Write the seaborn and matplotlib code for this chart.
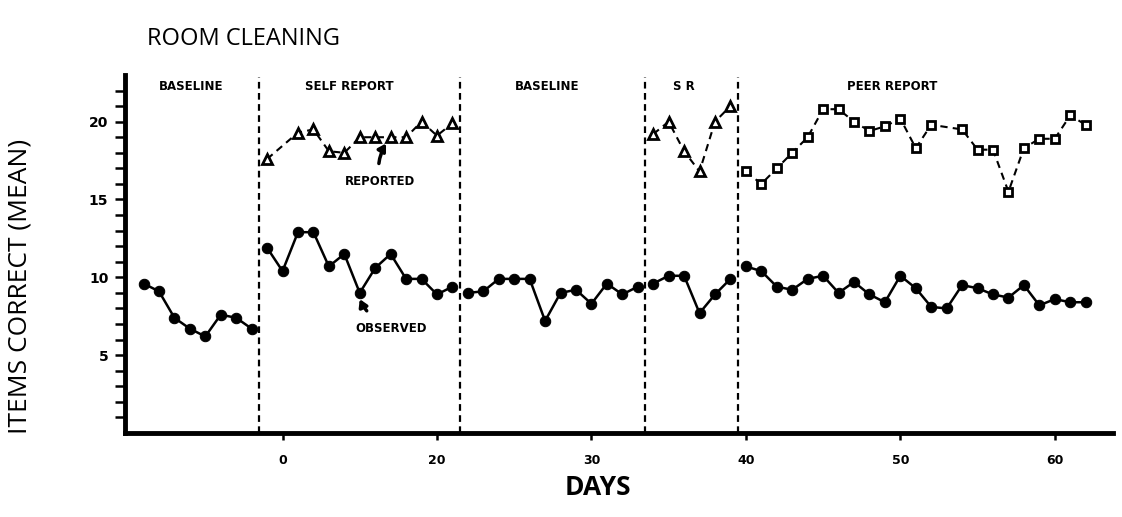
import numpy as np
import pandas as pd
import seaborn as sns
import matplotlib.pyplot as plt

# observed items correct, one list per phase
obs_days = [list(range(1, 9)), list(range(9, 22)), list(range(22, 34)),
            list(range(34, 40)), list(range(40, 63))]
obs_vals = [
    [9.6, 9.1, 7.4, 6.7, 6.2, 7.6, 7.4, 6.7],
    [11.9, 10.4, 12.9, 12.9, 10.7, 11.5, 9.0, 10.6, 11.5, 9.9, 9.9, 8.9, 9.4],
    [9.0, 9.1, 9.9, 9.9, 9.9, 7.2, 9.0, 9.2, 8.3, 9.6, 8.9, 9.4],
    [9.6, 10.1, 10.1, 7.7, 8.9, 9.9],
    [10.7, 10.4, 9.4, 9.2, 9.9, 10.1, 9.0, 9.7, 8.9, 8.4, 10.1, 9.3, 8.1,
     8.0, 9.5, 9.3, 8.9, 8.7, 9.5, 8.2, 8.6, 8.4, 8.4],
]

# self reported (triangles), no mark on day 10
rep_days = [[9, 11, 12, 13, 14, 15, 16, 17, 18, 19, 20, 21],
            [34, 35, 36, 37, 38, 39]]
rep_vals = [[17.6, 19.3, 19.5, 18.1, 18.0, 19.0, 19.0, 19.0, 19.0, 20.0, 19.1, 19.9],
            [19.2, 20.0, 18.1, 16.8, 20.0, 21.0]]

# peer reported (squares), no point on day 53
peer_days = list(range(40, 53)) + list(range(54, 63))
peer_vals = [16.8, 16.0, 17.0, 18.0, 19.0, 20.8, 20.8, 20.0, 19.4, 19.7, 20.2,
             18.3, 19.8, 19.5, 18.2, 18.2, 15.5, 18.3, 18.9, 18.9, 20.4, 19.8]

phase_lines = [8.5, 21.5, 33.5, 39.5]
phase_names = ["BASELINE", "SELF REPORT", "BASELINE", "S R", "PEER REPORT"]
phase_label_x = [4.1, 14.3, 27.1, 36.0, 49.5]

xticks = [10, 20, 30, 40, 50, 60]
xtick_labels = ["0", "20", "30", "40", "50", "60"]
yticks = [5, 10, 15, 20]

obs_df = pd.DataFrame({
    "day": [d for ds in obs_days for d in ds],
    "value": [v for vs in obs_vals for v in vs],
    "phase": [i for i, ds in enumerate(obs_days) for _ in ds],
})
rep_df = pd.DataFrame({
    "day": [d for ds in rep_days for d in ds],
    "value": [v for vs in rep_vals for v in vs],
    "phase": [i for i, ds in enumerate(rep_days) for _ in ds],
})
peer_df = pd.DataFrame({"day": peer_days, "value": peer_vals, "phase": 0})

sns.set_style("white", {"text.color": "black", "axes.labelcolor": "black",
                        "xtick.color": "black", "ytick.color": "black",
                        "xtick.bottom": True, "ytick.left": True})
fig = plt.figure(figsize=(11.22, 5.17), dpi=100)
ax = fig.add_axes([0.1114, 0.1625, 0.881, 0.6925])

sns.lineplot(data=obs_df, x="day", y="value", units="phase", estimator=None,
             color="black", lw=1.8, marker="o", markersize=7.5,
             markerfacecolor="black", markeredgecolor="black", ax=ax)
sns.lineplot(data=rep_df, x="day", y="value", units="phase", estimator=None,
             color="black", lw=1.5, linestyle=(0, (3.5, 2.5)), marker="^", markersize=6.5,
             markerfacecolor="white", markeredgecolor="black", markeredgewidth=2, ax=ax)
sns.lineplot(data=peer_df, x="day", y="value", units="phase", estimator=None,
             color="black", lw=1.5, linestyle=(0, (3.5, 2.5)), marker="s", markersize=5.5,
             markerfacecolor="white", markeredgecolor="black", markeredgewidth=2, ax=ax)

for xl in phase_lines:
    ax.plot([xl, xl], [0, 22.9], color="black", lw=1.6, linestyle=(0, (3, 2)))

for name, xp in zip(phase_names, phase_label_x):
    ax.text(xp, 22.25, name, ha="center", va="center", fontsize=8.5,
            fontweight="bold", family="DejaVu Sans", color="black")

ax.annotate("REPORTED", xy=(16.7, 18.6), xytext=(16.3, 16.15),
            ha="center", va="center", fontsize=8.5, fontweight="bold", color="black",
            arrowprops=dict(arrowstyle="-|>,head_length=0.5,head_width=0.3", color="black", lw=2.5,
                            connectionstyle="arc3,rad=-0.2", shrinkA=6, shrinkB=0))
ax.annotate("OBSERVED", xy=(15.0, 8.6), xytext=(17.0, 6.7),
            ha="center", va="center", fontsize=8.5, fontweight="bold", color="black",
            arrowprops=dict(arrowstyle="-|>,head_length=0.5,head_width=0.3", color="black", lw=2.5,
                            connectionstyle="arc3,rad=-0.2", shrinkA=8, shrinkB=0))

ax.set_xlim(-0.2, 63.8)
ax.set_ylim(0, 23)
sns.despine(ax=ax)
for side in ["left", "bottom"]:
    ax.spines[side].set_linewidth(3.5)
    ax.spines[side].set_color("black")

ax.set_xticks(xticks)
ax.set_xticklabels(xtick_labels)
ax.set_yticks(yticks)
ax.set_yticks(range(1, 23), minor=True)
ax.tick_params(axis="both", which="both", direction="out", color="black", width=1.8,
               labelcolor="black")
ax.tick_params(axis="x", which="both", bottom=True, length=5, pad=10, labelsize=9)
ax.tick_params(axis="y", which="both", left=True, length=7, pad=5, labelsize=10)
for lab in ax.get_xticklabels() + ax.get_yticklabels():
    lab.set_fontweight("bold")

ax.set_xlabel("")
ax.set_ylabel("")
fig.text(0.533, 0.058, "DAYS", ha="center", va="center", fontsize=19,
         fontweight="bold", family="Open Sans", color="black")
fig.text(0.018, 0.445, "ITEMS CORRECT (MEAN)", ha="center", va="center",
         rotation=90, fontsize=19, family="Open Sans", color="black")
fig.text(0.131, 0.925, "ROOM CLEANING", ha="left", va="center", fontsize=17,
         family="Open Sans", color="black")

fig.savefig("out.png", dpi=100)
